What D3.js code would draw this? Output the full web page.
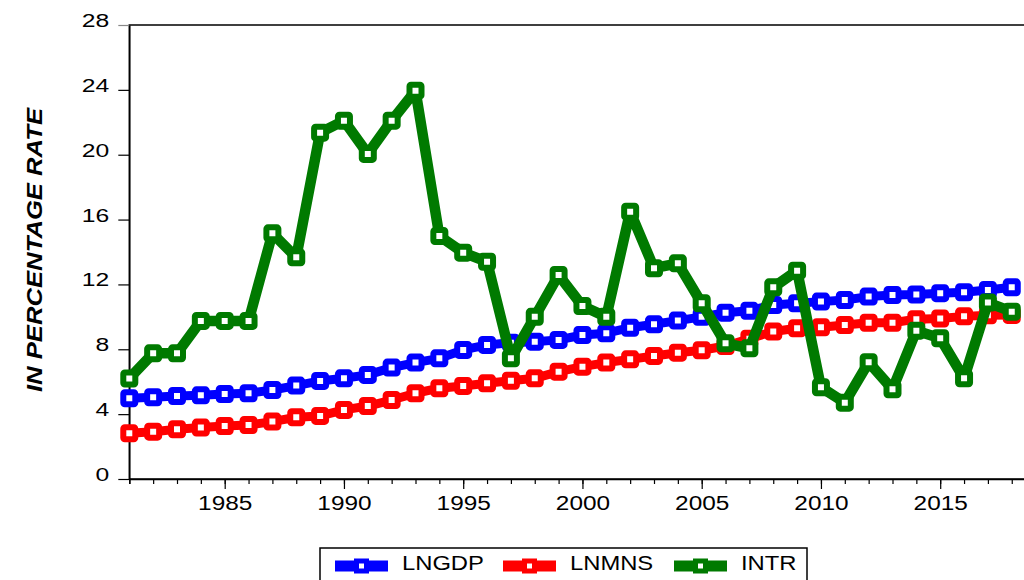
<!DOCTYPE html>
<html>
<head>
<meta charset="utf-8">
<script src="https://cdn.jsdelivr.net/npm/d3@7"></script>
<style>
  body { margin: 0; background: #fff; }
  svg { display: block; font-family: Arial, "Liberation Sans", sans-serif; }
</style>
</head>
<body>
<div id="chart"></div>
<script>
const years = d3.range(1981, 2019);
const lngdp = [4.98, 5.04, 5.12, 5.16, 5.24, 5.29, 5.49, 5.76, 6.05, 6.21,
  6.42, 6.87, 7.18, 7.44, 7.96, 8.27, 8.41, 8.47, 8.58, 8.88,
  8.99, 9.33, 9.54, 9.77, 10.0, 10.26, 10.38, 10.73, 10.84, 10.94,
  11.04, 11.25, 11.35, 11.38, 11.46, 11.52, 11.66, 11.82];
const lnmns = [2.82, 2.92, 3.07, 3.17, 3.27, 3.33, 3.54, 3.81, 3.89, 4.26,
  4.5, 4.87, 5.29, 5.6, 5.74, 5.9, 6.06, 6.21, 6.62, 6.93,
  7.18, 7.38, 7.59, 7.79, 7.94, 8.2, 8.65, 9.1, 9.3, 9.36,
  9.5, 9.64, 9.64, 9.86, 9.9, 10.03, 10.1, 10.12];
const intr = [6.2, 7.75, 7.75, 9.75, 9.75, 9.75, 15.15, 13.67, 21.36, 22.1,
  20.05, 22.1, 23.95, 14.99, 13.96, 13.4, 7.44, 10.0, 12.58, 10.67,
  10.0, 16.49, 13.0, 13.3, 10.84, 8.37, 8.06, 11.82, 12.85, 5.66,
  4.71, 7.2, 5.53, 9.15, 8.68, 6.21, 10.88, 10.32];
const seriesNames = ["LNGDP", "LNMNS", "INTR"];
const seriesColors = ["#0000ff", "#ff0000", "#007a00"];
const yTicks = [0, 4, 8, 12, 16, 20, 24, 28];
const xLabelTicks = [1985, 1990, 1995, 2000, 2005, 2010, 2015];

const width = 1024, height = 580;
const plotLeft = 129.3, plotTop = 25, plotBottom = 479, plotRight = 1035.6;

const svg = d3.select("#chart").append("svg")
  .attr("width", width)
  .attr("height", height);

const x = d3.scaleLinear().domain([1981, 2019]).range([plotLeft, plotRight]);
const y = d3.scaleLinear().domain([0, 28]).range([plotBottom, plotTop]);

// frame
svg.append("rect")
  .attr("x", plotLeft).attr("y", plotTop)
  .attr("width", plotRight - plotLeft).attr("height", plotBottom - plotTop)
  .attr("fill", "none").attr("stroke", "#000").attr("stroke-width", 1.5);

// y axis
const yAxis = svg.append("g")
  .attr("transform", `translate(${plotLeft},0)`)
  .call(d3.axisLeft(y).tickValues(yTicks).tickSize(11).tickSizeOuter(0));
yAxis.select(".domain").attr("stroke", "#000").attr("stroke-width", 1.5);
yAxis.selectAll(".tick line").attr("stroke", d => d === 28 ? "#888" : "#000").attr("stroke-width", 1.2);
yAxis.selectAll(".tick text")
  .attr("font-size", 19)
  .attr("fill", "#000")
  .attr("x", -20 / 1.3)
  .attr("dy", "0.08em")
  .attr("transform", "scale(1.3,1)");

// x axis: minor ticks each year, major every five
const xMinor = svg.append("g")
  .attr("transform", `translate(0,${plotBottom})`)
  .call(d3.axisBottom(x).tickValues(d3.range(1981, 2020)).tickSize(5).tickFormat(""));
xMinor.select(".domain").attr("stroke", "#000").attr("stroke-width", 1.5);
xMinor.selectAll(".tick line").attr("stroke", "#000").attr("stroke-width", 1.2);

const xMajor = svg.append("g")
  .attr("transform", `translate(0,${plotBottom})`)
  .call(d3.axisBottom(x).tickValues(xLabelTicks).tickSize(10).tickFormat(d3.format("d")));
xMajor.select(".domain").remove();
xMajor.selectAll(".tick line").attr("stroke", "#000").attr("stroke-width", 1.2);
xMajor.selectAll(".tick text")
  .attr("font-size", 19.5)
  .attr("fill", "#000")
  .attr("y", 31)
  .attr("dy", 0)
  .attr("transform", "scale(1.25,1)");

// y title
svg.append("text")
  .attr("transform", "translate(42,250) rotate(-90)")
  .attr("text-anchor", "middle")
  .attr("font-size", 22)
  .attr("font-weight", "bold")
  .attr("font-style", "italic")
  .attr("textLength", 284)
  .attr("lengthAdjust", "spacingAndGlyphs")
  .text("IN PERCENTAGE RATE");

// series
const allSeries = [lngdp, lnmns, intr];
const lineWidths = [9, 9, 10.5];
const line = d3.line().x((d, i) => x(years[i])).y(d => y(d));
const plot = svg.append("g");

allSeries.forEach((vals, k) => {
  plot.append("path")
    .datum(vals)
    .attr("fill", "none")
    .attr("stroke", seriesColors[k])
    .attr("stroke-width", lineWidths[k])
    .attr("stroke-linejoin", "round")
    .attr("d", line);
  plot.append("g")
    .selectAll("rect")
    .data(vals)
    .join("rect")
    .attr("x", (d, i) => x(years[i]) - 6)
    .attr("y", d => y(d) - 6)
    .attr("width", 12)
    .attr("height", 12)
    .attr("rx", 1.5)
    .attr("fill", "#fff")
    .attr("stroke", seriesColors[k])
    .attr("stroke-width", 6);
});

// legend
const legend = svg.append("g");
legend.append("rect")
  .attr("x", 320).attr("y", 548)
  .attr("width", 487).attr("height", 50)
  .attr("fill", "#fff").attr("stroke", "#000").attr("stroke-width", 1.5);

const legendX = [335, 503, 674];
seriesNames.forEach((name, k) => {
  const g = legend.append("g").attr("transform", `translate(${legendX[k]},566)`);
  g.append("line")
    .attr("x1", 0).attr("x2", 53)
    .attr("stroke", seriesColors[k]).attr("stroke-width", 11);
  g.append("rect")
    .attr("x", 26.5 - 5).attr("y", -5)
    .attr("width", 10).attr("height", 10)
    .attr("fill", "#fff")
    .attr("stroke", seriesColors[k]).attr("stroke-width", 5);
  g.append("text")
    .attr("x", 67 / 1.16)
    .attr("y", 3.5)
    .attr("font-size", 20.5)
    .attr("transform", "scale(1.16,1)")
    .text(name);
});
</script>
</body>
</html>
